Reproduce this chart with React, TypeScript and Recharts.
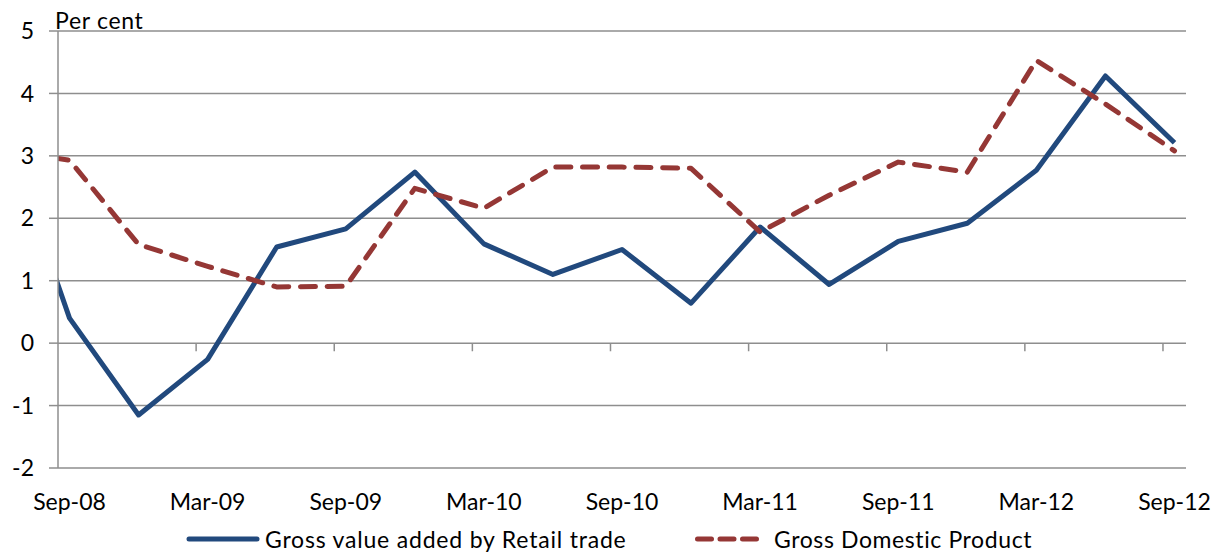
import { LineChart, Line, XAxis, YAxis, CartesianGrid, ReferenceLine, Legend } from 'recharts';

// quarterly year-ended growth; Jun-08 sits just left of the axis and is clipped
const quarters = [
    'Jun-08', 'Sep-08', 'Dec-08', 'Mar-09', 'Jun-09', 'Sep-09', 'Dec-09', 'Mar-10', 'Jun-10',
    'Sep-10', 'Dec-10', 'Mar-11', 'Jun-11', 'Sep-11', 'Dec-11', 'Mar-12', 'Jun-12', 'Sep-12'
];
const retailTrade = [3.6, 0.4, -1.15, -0.26, 1.54, 1.83, 2.74, 1.59, 1.1, 1.5, 0.64, 1.86, 0.94, 1.63, 1.92, 2.77, 4.28, 3.21];
const gdp = [3.1, 2.93, 1.58, 1.23, 0.9, 0.91, 2.48, 2.16, 2.82, 2.82, 2.8, 1.78, 2.37, 2.9, 2.74, 4.53, 3.83, 3.08];
const yTicks = [-2, -1, 0, 1, 2, 3, 4, 5];
const xLabelMonths = [0, 6, 12, 18, 24, 30, 36, 42, 48];
const zeroTickMonths = [5.5, 11.5, 17.5, 23.5, 29.5, 35.5, 41.5, 47.5];

const BLUE = '#21497D';
const RED = '#953735';
const GRID = '#8e8e8e';
const FONT = 'Lato, "Open Sans", sans-serif';

// months since Sep-08
const data = quarters.map((q, i) => ({
    month: (i - 1) * 3,
    label: q,
    retail: retailTrade[i],
    gdp: gdp[i],
}));

const labelFor = (m: number) => quarters[m / 3 + 1] ?? '';

const LegendBox = () => (
    <div style={{ position: 'relative', height: 26, fontFamily: FONT, fontSize: 23, color: '#000' }}>
        <svg width={76} height={26} style={{ position: 'absolute', left: 185, top: 0 }}>
            <line x1={4} y1={13} x2={72} y2={13} stroke={BLUE} strokeWidth={5} strokeLinecap="round" />
        </svg>
        <span style={{ position: 'absolute', left: 265, top: 0, lineHeight: '26px', whiteSpace: 'nowrap', letterSpacing: 0.8 }}>
            Gross value added by Retail trade
        </span>
        <svg width={68} height={26} style={{ position: 'absolute', left: 693, top: 0 }}>
            <line x1={4.5} y1={13} x2={63.5} y2={13} stroke={RED} strokeWidth={5}
                strokeLinecap="round" strokeDasharray="14 8.5" />
        </svg>
        <span style={{ position: 'absolute', left: 774, top: 0, lineHeight: '26px', whiteSpace: 'nowrap', letterSpacing: 0.6 }}>
            Gross Domestic Product
        </span>
    </div>
);

export default function App() {
    return (
        <div style={{ position: 'absolute', left: 0, top: 0, width: 1222, height: 552, background: '#fff', fontFamily: FONT }}>
            <LineChart width={1222} height={552} data={data} margin={{ top: 31, right: 36, bottom: 0, left: 0 }}>
                <CartesianGrid vertical={false} stroke={GRID} strokeWidth={1.5} />
                <XAxis
                    dataKey="month"
                    type="number"
                    domain={[-0.5, 48.5]}
                    allowDataOverflow
                    ticks={xLabelMonths}
                    tickFormatter={labelFor}
                    axisLine={false}
                    tickLine={false}
                    tickSize={0}
                    tickMargin={26}
                    height={58}
                    tick={{ fill: '#000', fontSize: 23, fontFamily: FONT }}
                />
                <YAxis
                    type="number"
                    domain={[-2, 5]}
                    ticks={yTicks}
                    width={58}
                    tickSize={9}
                    tickMargin={15}
                    axisLine={{ stroke: GRID, strokeWidth: 1.5 }}
                    tickLine={{ stroke: GRID, strokeWidth: 1.5 }}
                    tick={{ fill: '#000', fontSize: 23, fontFamily: FONT }}
                />
                {zeroTickMonths.map(m => (
                    <ReferenceLine
                        key={m}
                        segment={[{ x: m, y: 0 }, { x: m, y: -0.13 }]}
                        stroke={GRID}
                        strokeWidth={1.5}
                    />
                ))}
                <Legend verticalAlign="bottom" height={26} content={() => <LegendBox />} />
                <Line
                    type="linear"
                    dataKey="retail"
                    name="Gross value added by Retail trade"
                    stroke={BLUE}
                    strokeWidth={5}
                    strokeLinejoin="round"
                    dot={false}
                    activeDot={false}
                    isAnimationActive={false}
                />
                <Line
                    type="linear"
                    dataKey="gdp"
                    name="Gross Domestic Product"
                    stroke={RED}
                    strokeWidth={5}
                    strokeDasharray="15 11.7"
                    strokeLinecap="round"
                    strokeLinejoin="round"
                    dot={false}
                    activeDot={false}
                    isAnimationActive={false}
                />
                <text x={55} y={29} fontSize={23} fontFamily={FONT} fill="#000" letterSpacing={0.7}>Per cent</text>
            </LineChart>
        </div>
    );
}
